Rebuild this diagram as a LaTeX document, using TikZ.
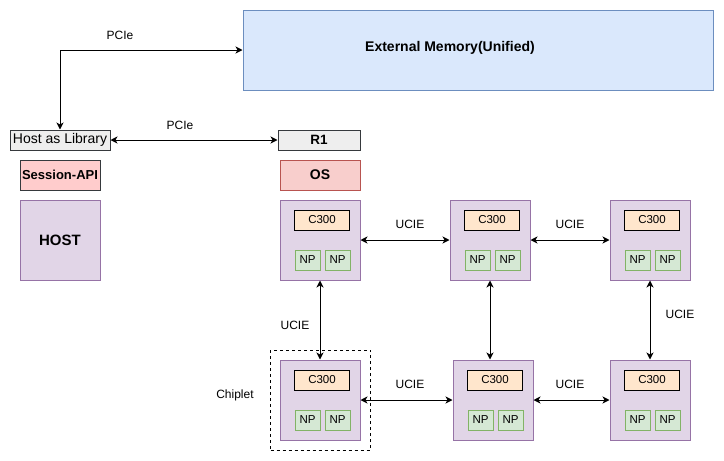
\documentclass[tikz,border=0pt]{standalone}
\usepackage{fontspec}
\setmainfont{Liberation Sans}
\usetikzlibrary{positioning,calc,arrows.meta}

\definecolor{memfill}{HTML}{DAE8FC}
\definecolor{memline}{HTML}{6C8EBF}
\definecolor{greyfill}{HTML}{EEEEEE}
\definecolor{greyline}{HTML}{36393D}
\definecolor{apifill}{HTML}{FFCCCC}
\definecolor{osfill}{HTML}{F8CECC}
\definecolor{osline}{HTML}{B85450}
\definecolor{tilefill}{HTML}{E1D5E7}
\definecolor{tileline}{HTML}{9673A6}
\definecolor{corefill}{HTML}{FFE6CC}
\definecolor{npfill}{HTML}{D5E8D4}
\definecolor{npline}{HTML}{82B366}

\tikzset{
	box/.style={draw, line width=1pt, inner sep=0pt, font=\fontsize{12}{14}\selectfont},
	greybox/.style={box, draw=greyline, fill=greyfill, minimum height=20pt},
	tile/.style={box, draw=tileline, fill=tilefill, minimum width=80pt, minimum height=80pt},
	core/.style={box, draw=black, fill=corefill, minimum width=55pt, minimum height=20pt, font=\fontsize{11.5}{13}\selectfont},
	np/.style={box, draw=npline, fill=npfill, minimum width=25pt, minimum height=20pt, font=\fontsize{11.5}{13}\selectfont},
	tag/.style={inner sep=0pt, font=\fontsize{12}{14}\selectfont},
	link/.style={{Stealth[length=7pt,width=7pt,inset=2pt]}-{Stealth[length=7pt,width=7pt,inset=2pt]}, line width=1pt},
}

\begin{document}
\begin{tikzpicture}[x=1pt,y=-1pt]
	\useasboundingbox (0,0) rectangle (724,461);

	% memory and host side
	\node[box, draw=memline, fill=memfill, minimum width=470pt, minimum height=80pt, font=\fontsize{14}{16}\selectfont\bfseries] (extmem) at (478,50) {};
	\node[tag, font=\fontsize{14}{16}\selectfont\bfseries] (extmemtext) at (450,48) {External Memory(Unified)};
	\node[greybox, minimum width=100pt, font=\fontsize{14}{16}\selectfont] (hostlib) at (60,140) {Host as Library};
	\node[box, draw=greyline, fill=apifill, minimum width=80pt, minimum height=30pt, font=\fontsize{13}{15}\selectfont\bfseries] (api) at (60,175) {Session-API};
	\node[box, draw=tileline, fill=tilefill, minimum width=80pt, minimum height=80pt, font=\fontsize{15}{17}\selectfont\bfseries] (host) at (60,240) {HOST};

	\node[greybox, minimum width=82pt, font=\fontsize{13.5}{15}\selectfont\bfseries] (r1) at (319,140) {R1};
	\node[box, draw=osline, fill=osfill, minimum width=80pt, minimum height=30pt, font=\fontsize{14}{16}\selectfont\bfseries] (os) at (320,175) {OS};

	\draw[link] (hostlib.north) |- (extmem.west);
	\node[tag] (pcietop) at (120,35) {PCIe};
	\draw[link] (hostlib) -- (r1);
	\node[tag] (pciemid) at (180,125) {PCIe};

	% chiplet tiles
	\node[draw, dashed, dash pattern=on 3pt off 3pt, line width=1pt, minimum width=100pt, minimum height=100pt] (chipletbox) at (320.5,400) {};
	\node[tag] (chipletlabel) at (235,395) {Chiplet};
	\foreach \n/\x/\y in {a/320/240, b/490/240, c/650/240, d/320/400, e/493/400, f/650/400} {
		\node[tile] (tile\n) at (\x,\y) {};
		\node[core] (core\n) at ($(tile\n)+(2,-20)$) {C300};
		\node[np] (npl\n) at ($(tile\n)+(-12.5,20)$) {NP};
		\node[np] (npr\n) at ($(tile\n)+(17.5,20)$) {NP};
	}

	% UCIE links
	\draw[link] (tilea) -- (tileb);
	\draw[link] (tileb) -- (tilec);
	\draw[link] (tiled) -- (tilee);
	\draw[link] (tilee) -- (tilef);
	\draw[link] (tilea) -- (tiled);
	\draw[link] (tileb.south) -- (tileb.south |- tilee.north);
	\draw[link] (tilec) -- (tilef);
	\node[tag] (ucieab) at (410,224) {UCIE};
	\node[tag] (ucierbc) at (570,224) {UCIE};
	\node[tag] (ucievad) at (295,325) {UCIE};
	\node[tag] (ucievcf) at (680,314) {UCIE};
	\node[tag] (uciede) at (410,384) {UCIE};
	\node[tag] (ucieef) at (570,384) {UCIE};
\end{tikzpicture}
\end{document}
